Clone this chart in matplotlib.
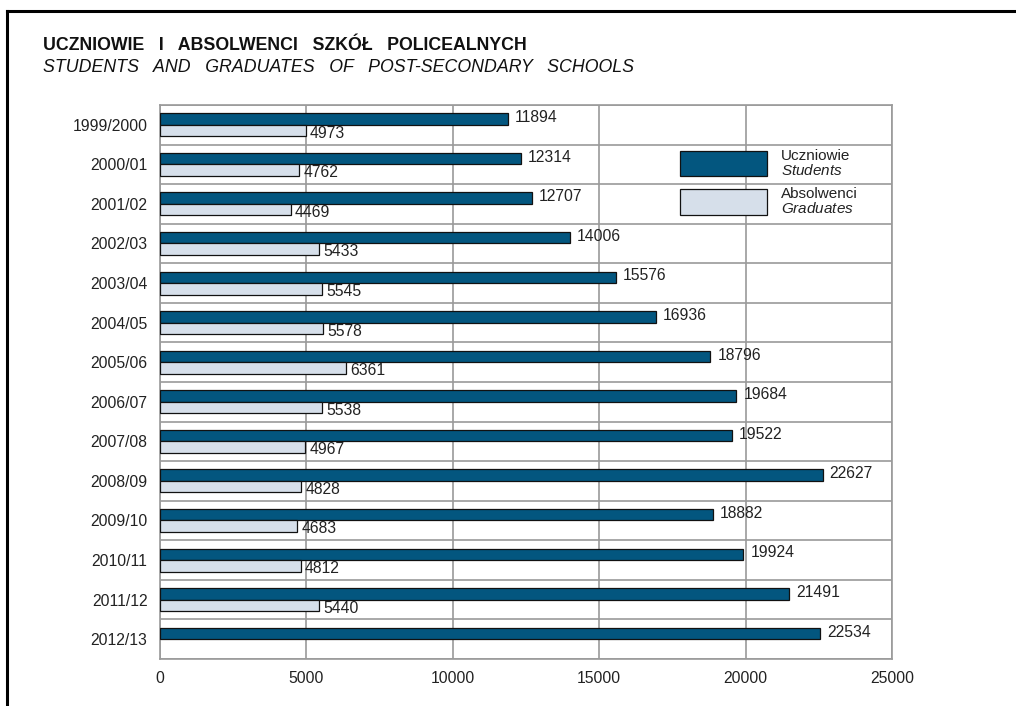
import numpy as np
import matplotlib
matplotlib.use('Agg')
import matplotlib.pyplot as plt
from matplotlib.lines import Line2D
from matplotlib.patches import Patch

plt.rcParams['font.family'] = ['Liberation Sans', 'DejaVu Sans']
plt.rcParams['mathtext.fontset'] = 'custom'
plt.rcParams['mathtext.rm'] = 'Liberation Sans'
plt.rcParams['mathtext.it'] = 'Liberation Sans:italic'

years = ['1999/2000', '2000/01', '2001/02', '2002/03', '2003/04', '2004/05',
         '2005/06', '2006/07', '2007/08', '2008/09', '2009/10', '2010/11',
         '2011/12', '2012/13']
students = [11894, 12314, 12707, 14006, 15576, 16936, 18796, 19684, 19522,
            22627, 18882, 19924, 21491, 22534]
graduates = [4973, 4762, 4469, 5433, 5545, 5578, 6361, 5538, 4967,
             4828, 4683, 4812, 5440, None]

dark = '#03567f'
light = '#d6dfea'
grid_c = '#9a9a9a'
txt_c = '#222222'
fs = 11.3

fig = plt.figure(figsize=(10.16, 7.06), dpi=100)
ax = fig.add_axes([0.1575, 0.0666, 0.7205, 0.7847])

y = np.arange(len(years))
h = 0.29
ax.barh(y - h / 2, students, height=h, color=dark, edgecolor='#111111', linewidth=0.9, zorder=3)
g_idx = [i for i, v in enumerate(graduates) if v is not None]
g_val = [graduates[i] for i in g_idx]
ax.barh(np.array(g_idx) + h / 2, g_val, height=h, color=light, edgecolor='#111111', linewidth=0.9, zorder=3)

# value labels
for i, v in enumerate(students):
    ax.annotate(str(v), (v, i - h / 2), xytext=(5, 1), textcoords='offset points',
                va='center', ha='left', fontsize=fs, color=txt_c, zorder=4)
for i, v in zip(g_idx, g_val):
    ax.annotate(str(v), (v, i + h / 2), xytext=(3, -2), textcoords='offset points',
                va='center', ha='left', fontsize=fs, color=txt_c, zorder=4)

ax.set_xlim(0, 25000)
ax.set_ylim(len(years) - 0.5, -0.5)
ax.set_xticks(np.arange(0, 25001, 5000))
ax.set_yticks(y)
ax.set_yticklabels(years)
ax.set_yticks(np.arange(-0.5, len(years), 1.0), minor=True)
ax.grid(axis='x', which='major', color=grid_c, linewidth=1.2, zorder=0)
ax.grid(axis='y', which='minor', color=grid_c, linewidth=1.2, zorder=0)
ax.tick_params(axis='both', which='both', length=0, labelsize=fs, colors=txt_c)
ax.tick_params(axis='y', pad=9)
ax.tick_params(axis='x', pad=9)
for s in ax.spines.values():
    s.set_color(grid_c)
    s.set_linewidth(1.2)

handles = [Patch(facecolor=dark, edgecolor='#111111', linewidth=0.9),
           Patch(facecolor=light, edgecolor='#111111', linewidth=0.9)]
labels = ['Uczniowie\n$\\mathit{Students}$', 'Absolwenci\n$\\mathit{Graduates}$']
leg = ax.legend(handles, labels, loc='upper left', bbox_to_anchor=(0.6995, 0.935),
                frameon=False, borderpad=0, handlelength=5.7, handleheight=2.15,
                handletextpad=0.9, labelspacing=0.6, fontsize=11)
for t in leg.get_texts():
    t.set_linespacing(1.0)
    t.set_color(txt_c)

fig.text(43 / 1016, 1 - 45 / 706, 'UCZNIOWIE   I   ABSOLWENCI   SZKÓŁ   POLICEALNYCH',
         fontsize=12.8, fontweight='bold', va='center', ha='left', color='#111111')
fig.text(43 / 1016, 1 - 68 / 706, 'STUDENTS   AND   GRADUATES   OF   POST-SECONDARY   SCHOOLS',
         fontsize=12.8, style='italic', va='center', ha='left', color='#111111')

# frame lines (left and top)
fig.add_artist(Line2D([7 / 1016, 7 / 1016], [0, 1 - 11 / 706], transform=fig.transFigure,
                      color='black', linewidth=2.2))
fig.add_artist(Line2D([7 / 1016, 1], [1 - 11 / 706, 1 - 11 / 706], transform=fig.transFigure,
                      color='black', linewidth=2.2))

fig.savefig('out.png', dpi=100)
